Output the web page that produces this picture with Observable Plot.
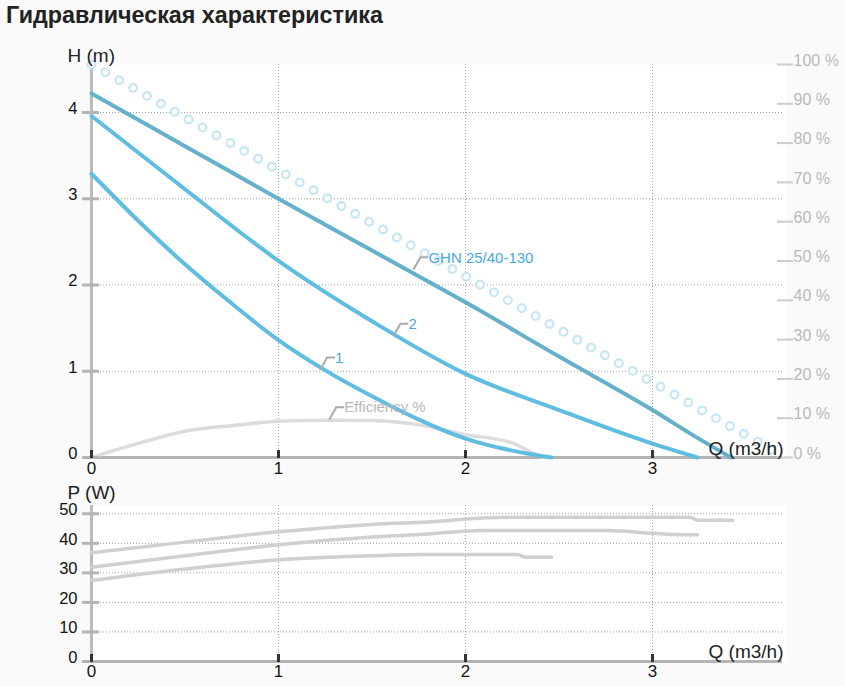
<!DOCTYPE html>
<html>
<head>
<meta charset="utf-8">
<script src="https://cdn.jsdelivr.net/npm/d3@7"></script>
<script src="https://cdn.jsdelivr.net/npm/@observablehq/plot@0.6"></script>
<style>
html,body{margin:0;padding:0;background:#fafafa;width:845px;height:686px;overflow:hidden;font-family:"Liberation Sans",Arial,sans-serif;}
#title{position:absolute;left:6px;top:0;font-weight:bold;font-size:23.3px;line-height:30px;color:#222;}
#top{position:absolute;left:0;top:30px;}
#bot{position:absolute;left:0;top:480px;}
</style>
</head>
<body>
<div id="title">Гидравлическая характеристика</div>
<div id="top"></div>
<div id="bot"></div>
<script>
// ---- data ----
const qMain = [0, 0.5, 1, 1.5, 2, 2.5, 3, 3.2, 3.42];
const hMain = [4.22, 3.61, 3.0, 2.40, 1.80, 1.17, 0.55, 0.28, 0];
const q2 = [0, 0.5, 1, 1.5, 2, 2.5, 3, 3.24];
const h2 = [3.96, 3.11, 2.28, 1.58, 0.97, 0.55, 0.16, 0];
const q1 = [0, 0.25, 0.5, 0.75, 1, 1.25, 1.5, 1.75, 2, 2.25, 2.46];
const h1 = [3.29, 2.745, 2.24, 1.785, 1.36, 1.01, 0.71, 0.44, 0.22, 0.08, 0];
const qEff = [0, 0.25, 0.5, 0.75, 1, 1.25, 1.5, 1.75, 2, 2.25, 2.36, 2.42];
const eff = [0, 3.6, 6.7, 8.1, 9.2, 9.5, 9.4, 8.3, 5.8, 3.7, 1.1, 0];
const qRing = [0, 3.71];
const effRing = [100, 0];
const qPMain = [0, 0.5, 1, 1.5, 1.9, 2, 2.3, 3.2, 3.24, 3.43];
const pMain = [36.8, 40.4, 43.9, 46.4, 47.6, 48.2, 48.85, 48.85, 47.8, 47.8];
const qP2 = [0, 0.5, 1, 1.5, 1.76, 1.85, 2.08, 2.76, 3.0, 3.15, 3.24];
const p2 = [31.9, 35.8, 39.5, 42.1, 43.0, 43.4, 44.3, 44.3, 43.4, 42.9, 42.9];
const qP1 = [0, 0.5, 1, 1.5, 1.76, 2.28, 2.32, 2.46];
const p1 = [27.4, 31.3, 34.4, 35.8, 36.2, 36.2, 35.3, 35.3];

const qTicks = [0, 1, 2, 3];
const hTicks = [0, 1, 2, 3, 4];
const effTicks = [0, 10, 20, 30, 40, 50, 60, 70, 80, 90, 100];
const pTicks = [0, 10, 20, 30, 40, 50];
const qGrid = [1, 2, 3];
const hGrid = [1, 2, 3, 4];
const pGrid = [10, 20, 30, 40, 50];

const labelText = ["GHN 25/40-130", "2", "1", "Efficiency %"];
const labelQ = [1.724, 1.617, 1.225, 1.274];
const labelV = [2.17, 1.40, 1.01, 9.5]; // last one is efficiency in %
const hLabel = "H (m)", pLabel = "P (W)", qLabel = "Q (m3/h)";

const Hmax = 4.557, Qmax = 3.711, Pmax = 52.8;

// ---- tables ----
const zip = (xs, ys, kx, ky) => xs.map((x, i) => ({[kx]: x, [ky]: ys[i]}));
const main = zip(qMain, hMain, "q", "h");
const c2 = zip(q2, h2, "q", "h");
const c1 = zip(q1, h1, "q", "h");
const effT = zip(qEff, eff, "q", "e");
const ring = zip(qRing, effRing, "q", "e");
const pm = zip(qPMain, pMain, "q", "p");
const pc2 = zip(qP2, p2, "q", "p");
const pc1 = zip(qP1, p1, "q", "p");
const labelColors = ["#4aa8db", "#4aa8db", "#4aa8db", "#b8b8b8"];
const labels = labelText.map((t, i) => ({
  text: t, q: labelQ[i], y: i === 3 ? labelV[i] / 100 * Hmax : labelV[i], color: labelColors[i]
}));

const LD = 7, LH = -12.5, LW = 8;
function leaderMark(rows) {
  return (index, scales) => {
    const g = d3.create("svg:g").attr("fill", "none").attr("stroke", "#aaaaaa").attr("stroke-width", 2);
    for (const r of rows) {
      const x0 = scales.x(r.q), y0 = scales.y(r.y);
      g.append("path").attr("d", `M${x0},${y0}l${LD},${LH}h${LW}`);
    }
    return g.node();
  };
}

const font = "'Liberation Sans', Arial, sans-serif";
const gridStyle = {stroke: "#a0a0a0", strokeDasharray: "1,2", strokeWidth: 1, strokeOpacity: 1};
const intFmt = d => String(d);

const topPlot = Plot.plot({
  width: 845, height: 455,
  marginLeft: 91, marginRight: 60, marginTop: 34, marginBottom: 28,
  style: {background: "transparent", fontFamily: font, overflow: "visible"},
  x: {domain: [0, Qmax]},
  y: {domain: [0, Hmax]},
  marks: [
    Plot.frame({fill: "white", stroke: "none"}),
    Plot.ruleX(qGrid, {...gridStyle}),
    Plot.ruleY(hGrid, {...gridStyle, insetRight: 3}),
    Plot.ruleX([0], {stroke: "#bbbbbb", strokeWidth: 3}),
    Plot.ruleY([0], {stroke: "#b4b4b4", strokeWidth: 3, insetLeft: -9, insetRight: 3}),
    Plot.line(effT, {x: "q", y: d => d.e / 100 * Hmax, stroke: "#dcdcdc", strokeWidth: 3.5, curve: "monotone-x"}),
    Plot.line(c1, {x: "q", y: "h", stroke: "#5fbde1", strokeWidth: 4, curve: "monotone-x"}),
    Plot.line(c2, {x: "q", y: "h", stroke: "#5fbde1", strokeWidth: 4, curve: "monotone-x"}),
    Plot.line(main, {x: "q", y: "h", stroke: "#65b0cb", strokeWidth: 4, curve: "monotone-x"}),
    Plot.line(ring, {x: "q", y: d => d.e / 100 * Hmax, stroke: "#c9e6f4", strokeWidth: 10, strokeLinecap: "round", strokeDasharray: "0 15.95"}),
    Plot.line(ring, {x: "q", y: d => d.e / 100 * Hmax, stroke: "white", strokeWidth: 5.5, strokeLinecap: "round", strokeDasharray: "0 15.95"}),
    leaderMark(labels),
    Plot.text(labels, {x: "q", y: "y", text: "text", fill: "color", dx: LD + LW - 0.5, dy: LH, textAnchor: "start", lineAnchor: "middle", fontSize: 15}),
    // left axis
    Plot.axisY(hTicks, {anchor: "left", tickSize: 17, dx: 8, stroke: "#b4b4b4", strokeWidth: 3, tickFormat: () => "", label: null}),
    Plot.axisY(hTicks, {anchor: "left", tickSize: 0, tickPadding: 14, dy: -4, fill: "#111", fontSize: 16.5, tickFormat: intFmt, label: null}),
    // right (efficiency) axis
    Plot.axisY(effTicks.map(e => e / 100 * Hmax), {anchor: "right", tickSize: 16, dx: -9, stroke: "#cccccc", strokeWidth: 2, tickFormat: () => "", label: null}),
    Plot.axisY(effTicks.map(e => e / 100 * Hmax), {anchor: "right", tickSize: 0, tickPadding: 8, dy: -4, fill: "#b9b9b9", fontSize: 16, tickFormat: d => `${Math.round(d / Hmax * 100)} %`, label: null}),
    // x axis
    Plot.axisX(qTicks, {anchor: "bottom", tickSize: 8, dy: -7, stroke: "#333", strokeWidth: 3, tickFormat: () => "", label: null}),
    Plot.axisX(qTicks, {anchor: "bottom", tickSize: 0, tickPadding: 4, fill: "#111", fontSize: 17, tickFormat: intFmt, label: null}),
    Plot.text([hLabel], {frameAnchor: "top-left", text: d => d, dx: -24, dy: -9, textAnchor: "start", lineAnchor: "middle", fontSize: 19, fill: "#222"}),
    Plot.text([qLabel], {frameAnchor: "bottom-right", text: d => d, dx: -2, dy: -9, textAnchor: "end", lineAnchor: "middle", fontSize: 19, fill: "#222"})
  ]
});
document.getElementById("top").append(topPlot);

const botPlot = Plot.plot({
  width: 845, height: 206,
  marginLeft: 91, marginRight: 60, marginTop: 25, marginBottom: 25,
  style: {background: "transparent", fontFamily: font, overflow: "visible"},
  x: {domain: [0, Qmax]},
  y: {domain: [0, Pmax]},
  marks: [
    Plot.frame({fill: "white", stroke: "none"}),
    Plot.ruleX(qGrid, {...gridStyle}),
    Plot.ruleY(pGrid, {...gridStyle, insetRight: 3}),
    Plot.ruleX([0], {stroke: "#bbbbbb", strokeWidth: 3}),
    Plot.ruleY([0], {stroke: "#b4b4b4", strokeWidth: 3, insetLeft: -9, insetRight: 3}),
    Plot.line(pc1, {x: "q", y: "p", stroke: "#d0d0d0", strokeWidth: 3.5, curve: "monotone-x"}),
    Plot.line(pc2, {x: "q", y: "p", stroke: "#d0d0d0", strokeWidth: 3.5, curve: "monotone-x"}),
    Plot.line(pm, {x: "q", y: "p", stroke: "#d0d0d0", strokeWidth: 3.5, curve: "monotone-x"}),
    Plot.axisY(pTicks, {anchor: "left", tickSize: 17, dx: 8, stroke: "#b4b4b4", strokeWidth: 3, tickFormat: () => "", label: null}),
    Plot.axisY(pTicks, {anchor: "left", tickSize: 0, tickPadding: 14, dy: -4, fill: "#111", fontSize: 16.5, tickFormat: intFmt, label: null}),
    Plot.axisX(qTicks, {anchor: "bottom", tickSize: 8, dy: -7, stroke: "#333", strokeWidth: 3, tickFormat: () => "", label: null}),
    Plot.axisX(qTicks, {anchor: "bottom", tickSize: 0, tickPadding: 3, fill: "#111", fontSize: 17, tickFormat: intFmt, label: null}),
    Plot.text([pLabel], {frameAnchor: "top-left", text: d => d, dx: -24, dy: -13, textAnchor: "start", lineAnchor: "middle", fontSize: 19, fill: "#222"}),
    Plot.text([qLabel], {frameAnchor: "bottom-right", text: d => d, dx: -2, dy: -10, textAnchor: "end", lineAnchor: "middle", fontSize: 19, fill: "#222"})
  ]
});
document.getElementById("bot").append(botPlot);
</script>
</body>
</html>
